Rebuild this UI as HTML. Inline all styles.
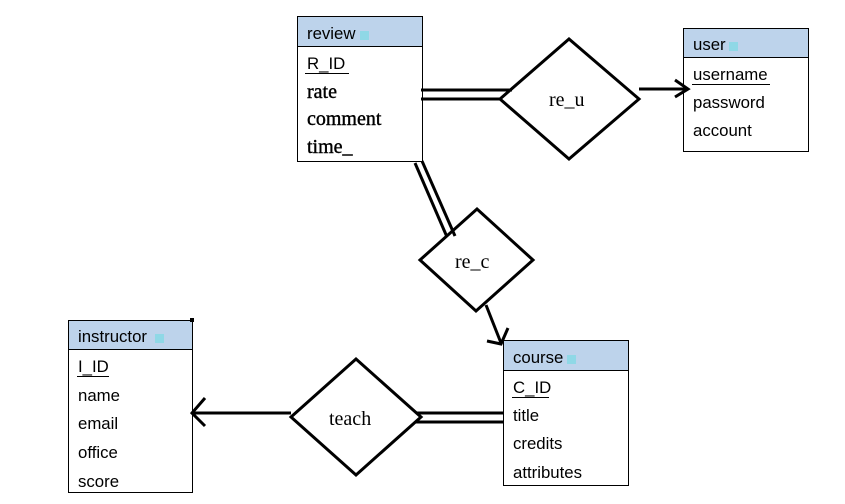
<!DOCTYPE html>
<html><head><style>
body{margin:0;background:#fff;}
svg{display:block}
.s{font-family:"Liberation Sans",sans-serif;font-size:16.8px;fill:#000}
.r{font-family:"Liberation Serif",serif;font-size:20px;fill:#000;stroke:#000;stroke-width:0.4}
.d{font-family:"Liberation Serif",serif;font-size:20px;fill:#000}
</style></head><body>
<svg width="845" height="504" viewBox="0 0 845 504" xmlns="http://www.w3.org/2000/svg">
<!-- review -->
<rect x="297.5" y="16.5" width="125" height="145" fill="#fff" stroke="#000"/>
<rect x="298" y="17" width="124" height="29" fill="#bdd3eb"/>
<line x1="297" y1="46.5" x2="423" y2="46.5" stroke="#000"/>
<text x="307" y="39" class="s">review</text><rect x="360" y="31" width="9" height="9" fill="#8fd8e6"/>
<text x="307" y="69" class="s">R_ID</text><line x1="305" y1="73.5" x2="349" y2="73.5" stroke="#000"/>
<text x="307" y="98" class="r">rate</text>
<text x="307" y="125" class="r">comment</text>
<text x="307" y="153" class="r">time_</text>
<!-- user -->
<rect x="683.5" y="28.5" width="125" height="123" fill="#fff" stroke="#000"/>
<rect x="684" y="29" width="124" height="28" fill="#bdd3eb"/>
<line x1="683" y1="57.5" x2="809" y2="57.5" stroke="#000"/>
<text x="693" y="50" class="s">user</text><rect x="729" y="42" width="9" height="9" fill="#8fd8e6"/>
<text x="693" y="80" class="s">username</text><line x1="692" y1="84.5" x2="770" y2="84.5" stroke="#000"/>
<text x="693" y="108" class="s">password</text>
<text x="693" y="136" class="s">account</text>
<!-- instructor -->
<rect x="68.5" y="320.5" width="124" height="172" fill="#fff" stroke="#000"/>
<rect x="69" y="321" width="123" height="28" fill="#bdd3eb"/>
<line x1="68" y1="349.5" x2="193" y2="349.5" stroke="#000"/>
<rect x="190" y="318" width="4" height="4" fill="#000"/>
<text x="78" y="342" class="s">instructor</text><rect x="155" y="334" width="9" height="9" fill="#8fd8e6"/>
<text x="78" y="372" class="s">I_ID</text><line x1="77" y1="376.5" x2="109" y2="376.5" stroke="#000"/>
<text x="78" y="401" class="s">name</text>
<text x="78" y="429" class="s">email</text>
<text x="78" y="458" class="s">office</text>
<text x="78" y="487" class="s">score</text>
<!-- course -->
<rect x="503.5" y="340.5" width="125" height="145" fill="#fff" stroke="#000"/>
<rect x="504" y="341" width="124" height="29" fill="#bdd3eb"/>
<line x1="503" y1="370.5" x2="629" y2="370.5" stroke="#000"/>
<text x="513" y="363" class="s">course</text><rect x="567" y="355" width="9" height="9" fill="#8fd8e6"/>
<text x="513" y="393" class="s">C_ID</text><line x1="512" y1="397.5" x2="549" y2="397.5" stroke="#000"/>
<text x="513" y="421" class="s">title</text>
<text x="513" y="449" class="s">credits</text>
<text x="513" y="478" class="s">attributes</text>
<!-- diamonds -->
<g fill="#fff" stroke="#000" stroke-width="3" stroke-linejoin="miter">
<polygon points="500,99 569,39 639,99 569,159"/>
<polygon points="420,260 477,209 533,260 476,311"/>
<polygon points="291,417 356,359 421,417 356,475"/>
</g>
<text x="549" y="106" class="d">re_u</text>
<text x="455" y="268" class="d">re_c</text>
<text x="329" y="425" class="d">teach</text>
<!-- connectors -->
<g stroke="#000" stroke-width="3" fill="none">
<line x1="421" y1="90" x2="512" y2="90"/>
<line x1="421" y1="99" x2="500" y2="99"/>
<line x1="639" y1="89" x2="688" y2="89"/>
<polyline points="675,80 688,89 675,97"/>
<line x1="415" y1="163" x2="447" y2="237"/>
<line x1="422" y1="161" x2="455" y2="236"/>
<line x1="486" y1="305" x2="501" y2="343"/>
<polyline points="487,341 501,344 508,328"/>
<line x1="291" y1="413" x2="192" y2="413"/>
<polyline points="205,398 192,413 205,426"/>
<line x1="416" y1="413" x2="504" y2="413"/>
<line x1="416" y1="422" x2="504" y2="422"/>
</g>
</svg>
</body></html>
